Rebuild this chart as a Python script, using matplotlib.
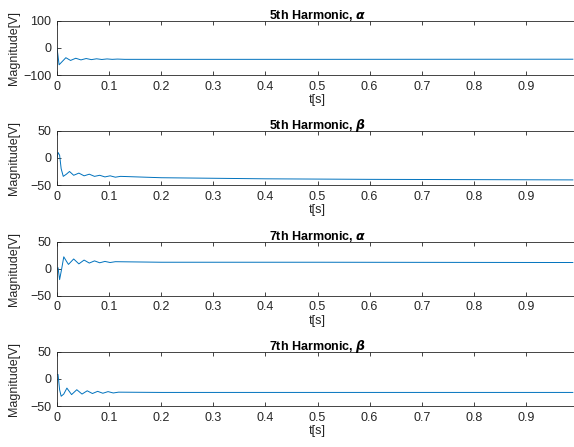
import numpy as np
import matplotlib
matplotlib.use('Agg')
import matplotlib.pyplot as plt

plt.rcParams['font.family'] = ['Liberation Sans', 'DejaVu Sans']
plt.rcParams['mathtext.fontset'] = 'dejavusans'

# values (time [s], magnitude [V])
t1 = [0, 0.002, 0.004, 0.009, 0.017, 0.026, 0.036, 0.046, 0.056, 0.066, 0.076,
      0.086, 0.096, 0.106, 0.116, 0.13, 0.2, 0.5, 0.99]
v1 = [0, -30, -62, -52, -36, -46, -38, -44, -39, -43, -40,
      -42.5, -40.5, -42, -41, -42, -42, -42, -41.5]

t2 = [0, 0.002, 0.005, 0.008, 0.012, 0.018, 0.024, 0.032, 0.042, 0.052, 0.062,
      0.072, 0.082, 0.092, 0.102, 0.112, 0.122, 0.2, 0.4, 0.6, 0.8, 0.99]
v2 = [0, 10, 5, -20, -34, -30, -25, -32, -28, -33, -30,
      -34, -32, -35, -33, -35.5, -34, -36.5, -38.5, -39.5, -40, -40.5]

t3 = [0, 0.002, 0.005, 0.009, 0.013, 0.018, 0.022, 0.032, 0.042, 0.052, 0.062,
      0.072, 0.082, 0.092, 0.102, 0.112, 0.2, 0.5, 0.99]
v3 = [0, 2, -20, 0, 22, 14, 8, 18, 9, 16, 10.5,
      14.5, 11, 13.5, 11.5, 13, 12, 12, 11.5]

t4 = [0, 0.002, 0.005, 0.008, 0.013, 0.019, 0.028, 0.038, 0.048, 0.058, 0.068,
      0.078, 0.088, 0.098, 0.108, 0.118, 0.2, 0.5, 0.99]
v4 = [8, 8, -20, -32, -28, -17, -29, -20, -28, -22, -27,
      -23, -26.5, -23.5, -26, -24.5, -25, -25, -25]

titles = [r'5th Harmonic, $\boldsymbol{\alpha}$', r'5th Harmonic, $\boldsymbol{\beta}$',
          r'7th Harmonic, $\boldsymbol{\alpha}$', r'7th Harmonic, $\boldsymbol{\beta}$']
yticks = [[-100, 0, 100], [-50, 0, 50], [-50, 0, 50], [-50, 0, 50]]
xticks = [0, 0.1, 0.2, 0.3, 0.4, 0.5, 0.6, 0.7, 0.8, 0.9]
xticklabels = ['0', '0.1', '0.2', '0.3', '0.4', '0.5', '0.6', '0.7', '0.8', '0.9']

series = [(t1, v1), (t2, v2), (t3, v3), (t4, v4)]
bottoms = [0.832, 0.586, 0.338, 0.0917]

fig = plt.figure(figsize=(5.74, 4.47), dpi=100)
ax_col = (0.15, 0.15, 0.15)

for i in range(4):
    ax = fig.add_axes([0.0993, bottoms[i], 0.9077, 0.1215])
    t, v = series[i]
    ax.plot(t, v, color=(0, 0.447, 0.741), lw=0.7)
    ax.set_xlim(0, 1)
    ax.set_ylim(yticks[i][0], yticks[i][-1])
    ax.set_yticks(yticks[i])
    ax.set_xticks(xticks)
    ax.set_xticklabels(xticklabels)
    ax.tick_params(direction='in', length=3, width=0.6, labelsize=9,
                   top=True, right=True, colors=ax_col, pad=4)
    for s in ax.spines.values():
        s.set_color(ax_col)
        s.set_linewidth(0.6)
    ax.set_title(titles[i], fontsize=9, fontweight='bold', pad=1.5, color='black')
    ax.set_xlabel('t[s]', fontsize=9, labelpad=1, color=ax_col)
    ax.set_ylabel('Magnitude[V]', fontsize=9, color=ax_col)
    ax.yaxis.set_label_coords(-0.071, 0.5)

fig.savefig('out.png', dpi=100)
